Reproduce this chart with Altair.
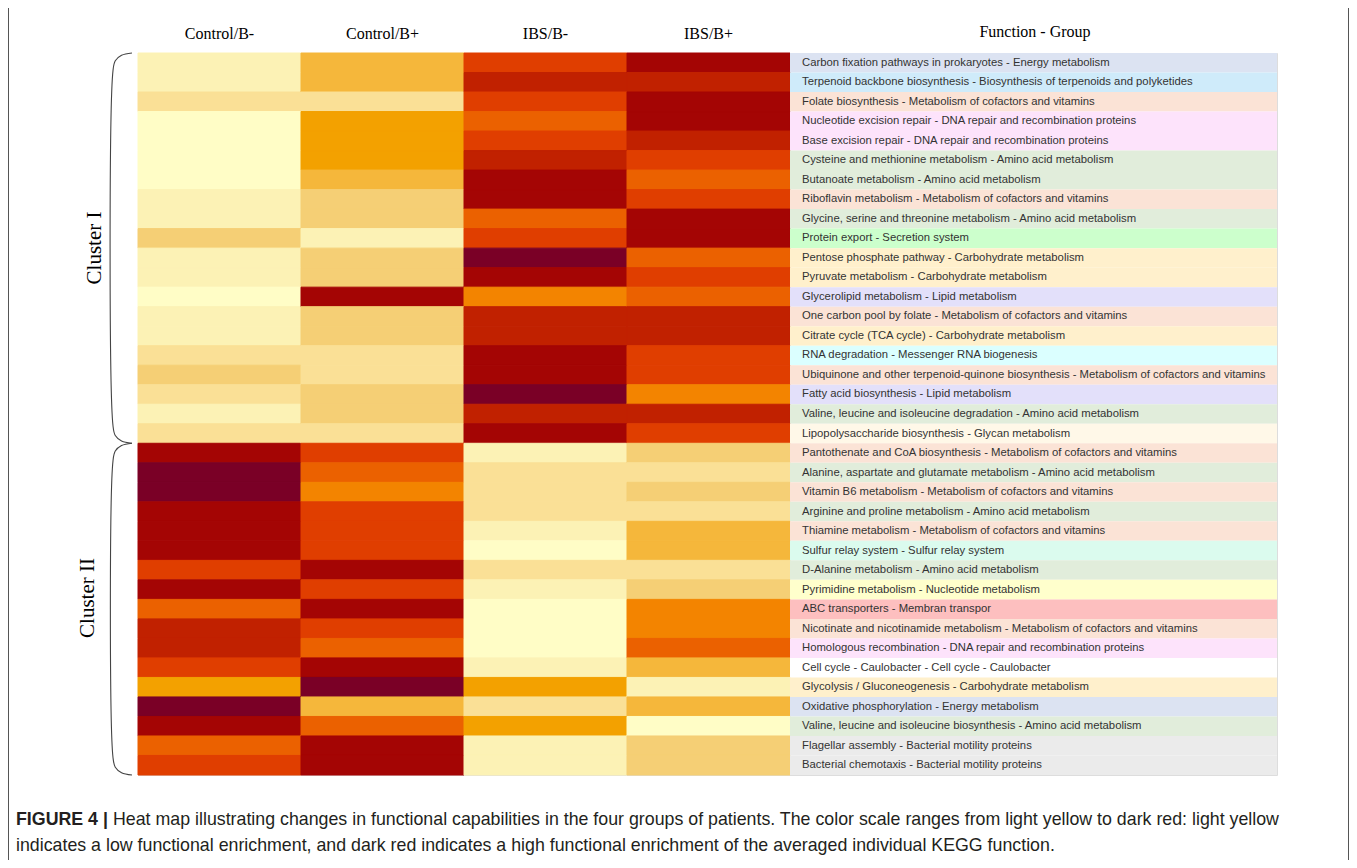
import altair as alt
import pandas as pd

samples = ["Control/B-", "Control/B+", "IBS/B-", "IBS/B+"]

functions = [
    "Carbon fixation pathways in prokaryotes",
    "Terpenoid backbone biosynthesis",
    "Folate biosynthesis",
    "Nucleotide excision repair",
    "Base excision repair",
    "Cysteine and methionine metabolism",
    "Butanoate metabolism",
    "Riboflavin metabolism",
    "Glycine, serine and threonine metabolism",
    "Protein export",
    "Pentose phosphate pathway",
    "Pyruvate metabolism",
    "Glycerolipid metabolism",
    "One carbon pool by folate",
    "Citrate cycle (TCA cycle)",
    "RNA degradation",
    "Ubiquinone and other terpenoid-quinone biosynthesis",
    "Fatty acid biosynthesis",
    "Valine, leucine and isoleucine degradation",
    "Lipopolysaccharide biosynthesis",
    "Pantothenate and CoA biosynthesis",
    "Alanine, aspartate and glutamate metabolism",
    "Vitamin B6 metabolism",
    "Arginine and proline metabolism",
    "Thiamine metabolism",
    "Sulfur relay system ",
    "D-Alanine metabolism",
    "Pyrimidine metabolism",
    "ABC transporters",
    "Nicotinate and nicotinamide metabolism",
    "Homologous recombination",
    "Cell cycle - Caulobacter ",
    "Glycolysis / Gluconeogenesis",
    "Oxidative phosphorylation",
    "Valine, leucine and isoleucine biosynthesis",
    "Flagellar assembly",
    "Bacterial chemotaxis",
]

fgroups = [
    "Energy metabolism",
    "Biosynthesis of terpenoids and polyketides",
    "Metabolism of cofactors and vitamins",
    "DNA repair and recombination proteins",
    "DNA repair and recombination proteins",
    "Amino acid metabolism",
    "Amino acid metabolism",
    "Metabolism of cofactors and vitamins",
    "Amino acid metabolism",
    "Secretion system",
    "Carbohydrate metabolism",
    "Carbohydrate metabolism",
    "Lipid metabolism",
    "Metabolism of cofactors and vitamins",
    "Carbohydrate metabolism",
    "Messenger RNA biogenesis",
    "Metabolism of cofactors and vitamins",
    "Lipid metabolism",
    "Amino acid metabolism",
    "Glycan metabolism",
    "Metabolism of cofactors and vitamins",
    "Amino acid metabolism",
    "Metabolism of cofactors and vitamins",
    "Amino acid metabolism",
    "Metabolism of cofactors and vitamins",
    "Sulfur relay system",
    "Amino acid metabolism",
    "Nucleotide metabolism",
    "Membran transpor",
    "Metabolism of cofactors and vitamins",
    "DNA repair and recombination proteins",
    "Cell cycle - Caulobacter",
    "Carbohydrate metabolism",
    "Energy metabolism",
    "Amino acid metabolism",
    "Bacterial motility proteins",
    "Bacterial motility proteins",
]

# enrichment level per function (1 = light yellow ... 12 = dark red)
control_bminus = [2, 2, 3, 1, 1, 1, 1, 2, 2, 4, 2, 2, 1, 2, 2, 3, 4, 3, 2, 3,
                  11, 12, 12, 11, 11, 11, 9, 11, 8, 10, 10, 9, 6, 12, 11, 8, 9]
control_bplus = [5, 5, 3, 6, 6, 6, 5, 4, 4, 2, 4, 4, 11, 4, 4, 3, 3, 4, 4, 3,
                 9, 8, 7, 9, 9, 9, 11, 9, 11, 9, 8, 11, 12, 5, 8, 11, 11]
ibs_bminus = [9, 10, 9, 8, 9, 10, 11, 11, 8, 9, 12, 11, 7, 10, 10, 11, 11, 12, 10, 11,
              2, 3, 3, 3, 2, 1, 3, 2, 1, 1, 1, 2, 6, 3, 6, 2, 2]
ibs_bplus = [11, 10, 11, 11, 10, 9, 8, 9, 11, 11, 8, 9, 8, 10, 10, 9, 9, 7, 10, 9,
             4, 3, 4, 3, 5, 5, 3, 4, 7, 7, 8, 5, 2, 5, 1, 4, 4]

levels = list(range(1, 13))
level_colors = ["#FFFDC6", "#FCF2B5", "#FAE096", "#F5CF75", "#F5B73B", "#F3A100",
                "#F38400", "#EB6100", "#E03E00", "#C12100", "#A40504", "#7A0026"]

group_names = ["Energy metabolism", "Biosynthesis of terpenoids and polyketides",
               "Metabolism of cofactors and vitamins", "DNA repair and recombination proteins",
               "Amino acid metabolism", "Secretion system", "Carbohydrate metabolism",
               "Lipid metabolism", "Messenger RNA biogenesis", "Glycan metabolism",
               "Sulfur relay system", "Nucleotide metabolism", "Membran transpor",
               "Cell cycle - Caulobacter", "Bacterial motility proteins"]
group_colors = ["#DCE3F2", "#CFEBFA", "#FBE3D6", "#FDE3FB", "#E1EDDB", "#CCFFCC",
                "#FFF0CC", "#E3E0FA", "#DBFFFF", "#FFF8E8", "#DBFBEE", "#FFFFCC",
                "#FDBFBF", "#FFFFFF", "#EBEBEB"]

clusters = ["Cluster I", "Cluster II"]
cluster_start = [0, 20]
cluster_end = [20, 37]

caption_bold = "FIGURE 4 |"
caption_line1 = ("Heat map illustrating changes in functional capabilities in the four groups of "
                 "patients. The color scale ranges from light yellow to dark red: light yellow")
caption_line2 = ("indicates a low functional enrichment, and dark red indicates a high functional "
                 "enrichment of the averaged individual KEGG function.")

# ---------------- data tables ----------------
cols = [control_bminus, control_bplus, ibs_bminus, ibs_bplus]
heat_rows = []
for s, vals in zip(samples, cols):
    for f, v in zip(functions, vals):
        heat_rows.append({"sample": s, "function": f, "level": v})
heat_df = pd.DataFrame(heat_rows)

gcol = dict(zip(group_names, group_colors))
lab_df = pd.DataFrame({
    "function": functions,
    "label": [f"{f} - {g}" for f, g in zip(functions, fgroups)],
    "bg": [gcol[g] for g in fgroups],
})

# bracket shapes derived from cluster extents
brace_rows = []
for c, a, b in zip(clusters, cluster_start, cluster_end):
    shape = [(1.0, a), (0.45, a + 0.12), (0.12, a + 0.4), (0.0, a + 0.9),
             (0.0, b - 0.9), (0.12, b - 0.4), (0.45, b - 0.12), (1.0, b)]
    for k, (bx, by) in enumerate(shape):
        brace_rows.append({"cluster": c, "k": k, "bx": bx, "by": by})
brace_df = pd.DataFrame(brace_rows)

W_HEAT = 652
W_ALL = 1139
H = 722

yscale = alt.Scale(domain=functions, paddingInner=0, paddingOuter=0)

heat = alt.Chart(heat_df).mark_rect().encode(
    x=alt.X("sample:N", sort=samples,
            scale=alt.Scale(domain=samples, range=[0, W_HEAT], paddingInner=0, paddingOuter=0),
            axis=alt.Axis(orient="top", title=None, labelAngle=0, ticks=False, domain=False,
                          labelFont="Liberation Serif", labelFontSize=16, labelColor="black",
                          labelPadding=12)),
    y=alt.Y("function:N", sort=functions, scale=yscale, axis=None),
    color=alt.Color("level:O", scale=alt.Scale(domain=levels, range=level_colors), legend=None),
    stroke=alt.Stroke("level:O", scale=alt.Scale(domain=levels, range=level_colors), legend=None),
)

label_bg = alt.Chart(lab_df).mark_rect().encode(
    x=alt.value(W_HEAT), x2=alt.value(W_ALL),
    y=alt.Y("function:N", sort=functions, scale=yscale, axis=None),
    fill=alt.Fill("bg:N", scale=None),
)

label_text = alt.Chart(lab_df).mark_text(
    align="left", baseline="middle", font="Liberation Sans", fontSize=11.3, color="#333333"
).encode(
    x=alt.value(W_HEAT + 12),
    y=alt.Y("function:N", sort=functions, scale=yscale, axis=None),
    text="label:N",
)

brace = alt.Chart(brace_df).mark_line(
    interpolate="catmull-rom", color="#444444", strokeWidth=1.1
).encode(
    x=alt.X("bx:Q", scale=alt.Scale(domain=[0, 1], range=[-25, -6]), axis=None),
    y=alt.Y("by:Q", scale=alt.Scale(domain=[0, 37], range=[0, H]), axis=None),
    detail="cluster:N",
    order="k:Q",
)

one = pd.DataFrame({"t": [""]})

head_fg = alt.Chart(pd.DataFrame({"t": ["Function - Group"]})).mark_text(
    font="Liberation Serif", fontSize=16, color="black", baseline="middle"
).encode(x=alt.value(897), y=alt.value(-21), text="t:N")

cl1 = alt.Chart(pd.DataFrame({"t": [clusters[0]]})).mark_text(
    font="Liberation Serif", fontSize=21, color="black", angle=270, baseline="middle"
).encode(x=alt.value(-43), y=alt.value(195), text="t:N")

cl2 = alt.Chart(pd.DataFrame({"t": [clusters[1]]})).mark_text(
    font="Liberation Serif", fontSize=21, color="black", angle=270, baseline="middle"
).encode(x=alt.value(-50), y=alt.value(545), text="t:N")

border = alt.Chart(one).mark_rect(filled=False, stroke="#555555", strokeWidth=1).encode(
    x=alt.value(-129.5), x2=alt.value(1210.5), y=alt.value(-45.5), y2=alt.value(900)
)

CAP_FONT = "Liberation Sans"
CAP_SIZE = 17.8

cap_b = alt.Chart(pd.DataFrame({"t": [caption_bold]})).mark_text(
    font=CAP_FONT, fontSize=CAP_SIZE, fontWeight="bold", color="#231F20",
    align="left", baseline="middle"
).encode(x=alt.value(-122), y=alt.value(767), text="t:N")

cap_1 = alt.Chart(pd.DataFrame({"t": [caption_line1]})).mark_text(
    font=CAP_FONT, fontSize=CAP_SIZE, color="#231F20", align="left", baseline="middle"
).encode(x=alt.value(-25), y=alt.value(767), text="t:N")

cap_2 = alt.Chart(pd.DataFrame({"t": [caption_line2]})).mark_text(
    font=CAP_FONT, fontSize=CAP_SIZE, color="#231F20", align="left", baseline="middle"
).encode(x=alt.value(-122), y=alt.value(793), text="t:N")

chart = alt.layer(
    border, heat, label_bg, label_text, brace, head_fg, cl1, cl2, cap_b, cap_1, cap_2
).resolve_scale(
    x="independent", y="independent", color="independent"
).properties(
    width=W_ALL, height=H,
    autosize=alt.AutoSizeParams(type="none"),
    padding={"left": 130, "top": 45, "right": 72, "bottom": 85},
).configure_view(stroke=None).configure(background="white")

chart.save("out.html", embed_options={"renderer": "svg", "actions": False})
